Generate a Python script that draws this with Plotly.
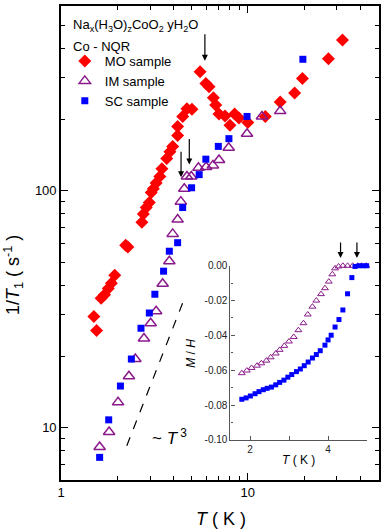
import numpy as np
import plotly.graph_objects as go

# Main panel: 1/T1 vs T (Co-NQR)
mo_T = [1.50, 1.55, 1.64, 1.71, 1.79, 1.86, 1.94, 2.22, 2.28, 2.71, 2.76, 2.86, 2.97, 3.04,
        3.12, 3.23, 3.38, 3.47, 3.68, 3.83, 3.96, 4.21, 4.21, 4.48, 4.72, 5.02, 5.55, 5.96,
        6.20, 6.54, 6.73, 7.01, 7.55, 8.02, 8.50, 8.96, 10.0, 12.4, 14.9, 17.8, 19.6, 27.0, 32.1]
mo_R = [29.5, 25.7, 35.2, 36.4, 38.7, 40.7, 44.0, 58.9, 57.9, 73.6, 79.8, 85.0, 89.3, 98.4,
        102, 108, 115, 124, 137, 146, 154, 171, 187, 206, 222, 221, 318, 284,
        275, 247, 230, 211, 207, 189, 211, 203, 194, 206, 237, 259, 298, 361, 433]

im_T = [1.61, 1.81, 2.02, 2.31, 2.50, 2.78, 3.02, 3.23, 3.50, 3.80, 3.96, 4.21, 4.38, 4.57,
        4.72, 4.98, 5.44, 5.98, 6.50, 7.01, 7.90, 9.9, 11.9, 14.9]
im_R = [8.3, 9.6, 12.8, 16.5, 19.5, 23.8, 27.6, 31.0, 40.5, 50.4, 65.8, 75.6, 90.0, 102,
        115, 115, 125, 126, 128, 135, 152, 174, 206, 217]

sc_T = [1.61, 1.80, 2.08, 2.38, 2.68, 2.97, 3.18, 3.54, 3.80, 4.21, 4.48, 5.0, 5.49, 5.96,
        6.95, 7.92, 9.9, 19.7]
sc_R = [7.5, 10.8, 15.0, 19.5, 26.3, 30.5, 36.6, 45.8, 55.6, 60.4, 85.0, 103, 117, 136,
        154, 166, 206, 359]

# ~T^3 guide line
guide_T = [2.25, 4.62]
guide_R = [8.4, 35.8]

# arrows in main panel: (T, 1/T1 at arrow head)
arrow_T = [5.89, 4.86, 4.39]
arrow_R = [354, 129, 114]

# Inset: M/H vs T
im_in_T = [1.79, 1.92, 2.04, 2.18, 2.29, 2.42, 2.53, 2.66, 2.76, 2.88, 3.00, 3.12, 3.24,
           3.37, 3.48, 3.60, 3.70, 3.82, 3.92, 4.02, 4.11, 4.18, 4.27, 4.38, 4.50, 4.63,
           4.76, 4.86, 4.98]
im_in_M = [-0.0617, -0.0602, -0.0587, -0.0574, -0.0560, -0.0545, -0.0526, -0.0504, -0.0483,
           -0.0460, -0.0435, -0.0409, -0.0370, -0.0330, -0.0280, -0.0235, -0.0200, -0.0163,
           -0.0129, -0.0091, -0.0049, -0.0015, -0.0004, 0.0, 0.0, 0.0, 0.0, 0.0, 0.0]

sc_in_T = [1.79, 1.90, 2.01, 2.13, 2.23, 2.34, 2.44, 2.55, 2.66, 2.76, 2.87, 2.97, 3.07,
           3.19, 3.29, 3.39, 3.49, 3.60, 3.70, 3.80, 3.92, 4.00, 4.08, 4.18, 4.28, 4.38,
           4.50, 4.61, 4.69, 4.80, 4.90, 4.99]
sc_in_M = [-0.0767, -0.0759, -0.0748, -0.0735, -0.0723, -0.0712, -0.0704, -0.0697, -0.0684,
           -0.0670, -0.0657, -0.0640, -0.0625, -0.0608, -0.0593, -0.0574, -0.0553, -0.0530,
           -0.0510, -0.0488, -0.0456, -0.0426, -0.0399, -0.0352, -0.0309, -0.0254, -0.0161,
           -0.0068, -0.0004, 0.0, 0.0, 0.0]

inset_arrow_T = [4.32, 4.74]

FONT = "Liberation Sans, Arial, sans-serif"
PURPLE = "#8a1a8a"

fig = go.Figure()

fig.add_trace(go.Scatter(x=mo_T, y=mo_R, mode="markers", name="MO sample",
                         marker=dict(symbol="diamond", size=10, color="#ff0000")))
fig.add_trace(go.Scatter(x=im_T, y=im_R, mode="markers", name="IM sample",
                         marker=dict(symbol="triangle-up-open", size=10, color=PURPLE,
                                     line=dict(width=1.5, color=PURPLE))))
fig.add_trace(go.Scatter(x=sc_T, y=sc_R, mode="markers", name="SC sample",
                         marker=dict(symbol="square", size=7, color="#0000ff")))
fig.add_trace(go.Scatter(x=guide_T, y=guide_R, mode="lines", showlegend=False,
                         line=dict(color="black", width=1.2, dash="dash")))

# inset traces
fig.add_trace(go.Scatter(x=im_in_T, y=im_in_M, mode="markers", xaxis="x2", yaxis="y2",
                         showlegend=False, cliponaxis=False,
                         marker=dict(symbol="triangle-up-open", size=6, color=PURPLE,
                                     line=dict(width=1, color=PURPLE))))
fig.add_trace(go.Scatter(x=sc_in_T, y=sc_in_M, mode="markers", xaxis="x2", yaxis="y2",
                         showlegend=False, cliponaxis=False,
                         marker=dict(symbol="square", size=5, color="#0000ff")))

annotations = []
for t, r in zip(arrow_T, arrow_R):
    annotations.append(dict(x=np.log10(t), y=np.log10(r), xref="x", yref="y", text="",
                            showarrow=True, arrowhead=2, arrowsize=1, arrowwidth=1.2,
                            arrowcolor="black", ax=0, ay=-28 if t > 5.5 else -27))
for t in inset_arrow_T:
    annotations.append(dict(x=t, y=0.4686, xref="x2", yref="paper", text="",
                            showarrow=True, arrowhead=2, arrowsize=1, arrowwidth=1.2,
                            arrowcolor="black", ax=0, ay=-17))

annotations += [
    dict(x=0.031, y=0.959, xref="paper", yref="paper", xanchor="left", yanchor="middle",
         text="Na<sub>x</sub>(H<sub>3</sub>O)<sub>z</sub>CoO<sub>2</sub> yH<sub>2</sub>O",
         showarrow=False, font=dict(size=13)),
    dict(x=0.031, y=0.914, xref="paper", yref="paper", xanchor="left", yanchor="middle",
         text="Co - NQR", showarrow=False, font=dict(size=13)),
    dict(x=np.log10(3.0), y=0.959, xref="x", yref="y", xanchor="left", yanchor="middle",
         text="~ <i>T</i><sup> 3</sup>", showarrow=False, font=dict(size=17)),
    dict(x=-0.15, y=0.433, xref="paper", yref="paper", xanchor="center", yanchor="middle",
         textangle=-90, text="1/<i>T</i><sub>1</sub> ( s<sup>-1</sup> )",
         showarrow=False, font=dict(size=18)),
    dict(x=0.503, y=-0.0816, xref="paper", yref="paper", xanchor="center", yanchor="middle",
         text="<i>T</i> ( K )", showarrow=False, font=dict(size=18)),
    dict(x=0.747, y=0.0418, xref="paper", yref="paper", xanchor="center", yanchor="middle",
         text="<i>T</i> ( K )", showarrow=False, font=dict(size=12)),
    dict(x=0.408, y=0.268, xref="paper", yref="paper", xanchor="center", yanchor="middle",
         textangle=-90, text="<i>M</i> / <i>H</i>", showarrow=False, font=dict(size=12)),
]

fig.update_layout(
    width=382, height=530,
    margin=dict(l=61, r=1, t=2, b=50),
    paper_bgcolor="white", plot_bgcolor="white",
    font=dict(family=FONT, size=13, color="black"),
    showlegend=True,
    legend=dict(x=0.012, y=0.9155, xanchor="left", yanchor="top", bgcolor="rgba(0,0,0,0)",
                font=dict(size=13), tracegroupgap=0),
    annotations=annotations,
    xaxis=dict(type="log", range=[0, 1.702], showgrid=False, zeroline=False,
               showline=True, linecolor="black", linewidth=1.6, mirror="ticks",
               ticks="inside", ticklen=7, tickwidth=1.2, tickcolor="black",
               tickvals=[1, 10], ticktext=["1", "10"],
               minor=dict(ticks="inside", ticklen=4, tickwidth=1.2, tickcolor="black",
                          tickvals=[2, 3, 4, 5, 6, 7, 8, 9, 20, 30, 40, 50])),
    yaxis=dict(type="log", range=[0.7795, 2.78], showgrid=False, zeroline=False,
               showline=True, linecolor="black", linewidth=1.6, mirror="ticks",
               ticks="inside", ticklen=7, tickwidth=1.2, tickcolor="black",
               tickvals=[10, 100], ticktext=["10", "100"],
               minor=dict(ticks="inside", ticklen=4, tickwidth=1.2, tickcolor="black",
                          tickvals=[6, 7, 8, 9, 20, 30, 40, 50, 60, 70, 80, 90,
                                    200, 300, 400, 500, 600])),
    xaxis2=dict(domain=[0.533, 0.9625], anchor="y2", range=[1.5, 5], showgrid=False,
                zeroline=False, showline=True, linecolor="#555", linewidth=1.2,
                ticks="inside", ticklen=4, tickcolor="#555",
                tickvals=[2, 4], ticktext=["2", "4"],
                tickfont=dict(size=10, color="#222"),
                minor=dict(ticks="inside", ticklen=4, tickcolor="#555", tickvals=[3, 5])),
    yaxis2=dict(domain=[0.0847, 0.452], anchor="x2", range=[-0.1, 0], showgrid=False,
                zeroline=False, showline=True, linecolor="#555", linewidth=1.2,
                ticks="inside", ticklen=4, tickcolor="#555",
                tickvals=[-0.10, -0.08, -0.06, -0.04, -0.02, 0.0],
                ticktext=["-0.10", "-0.08", "-0.06", "-0.04", "-0.02", "0.00"],
                tickfont=dict(size=10, color="#222"),
                minor=dict(ticks="inside", ticklen=2, tickcolor="#555", dtick=0.01)),
)

# remove the default 8px page margin so the figure fills the window exactly
fig.write_html("out.html", config={"displayModeBar": False},
               post_script="document.body.style.margin='0';")
